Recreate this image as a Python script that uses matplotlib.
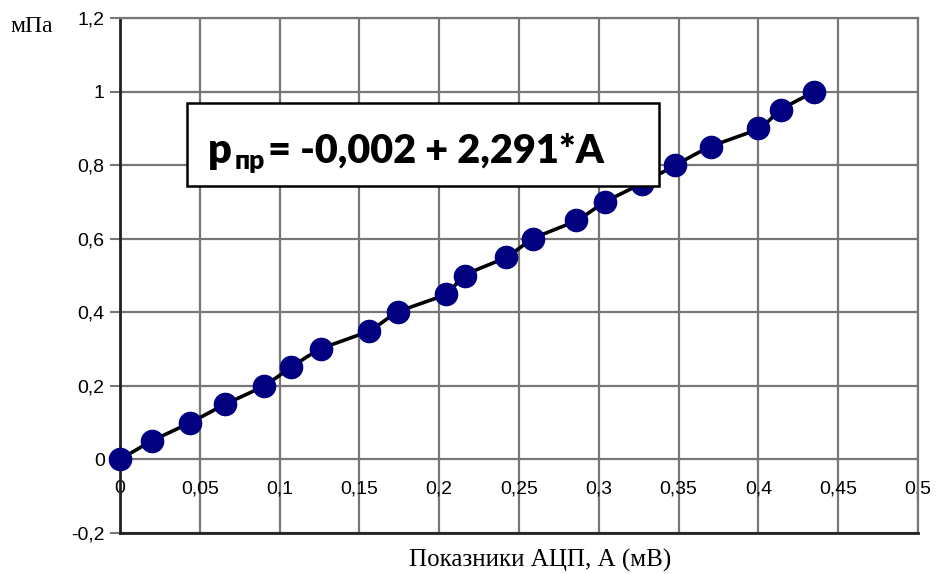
import numpy as np
import matplotlib.pyplot as plt
from matplotlib.patches import Rectangle

# readings
adc_mv = [0.0, 0.020, 0.044, 0.066, 0.090, 0.107, 0.126, 0.156, 0.174, 0.204, 0.216,
          0.242, 0.259, 0.286, 0.304, 0.327, 0.348, 0.370, 0.400, 0.414, 0.435]
p_mpa = [0.0, 0.05, 0.10, 0.15, 0.20, 0.25, 0.30, 0.35, 0.40, 0.45, 0.50,
         0.55, 0.60, 0.65, 0.70, 0.75, 0.80, 0.85, 0.90, 0.95, 1.00]
x_ticks = [0, 0.05, 0.1, 0.15, 0.2, 0.25, 0.3, 0.35, 0.4, 0.45, 0.5]
y_ticks = [-0.2, 0, 0.2, 0.4, 0.6, 0.8, 1.0, 1.2]


def fmt(v):
    s = ('%g' % v).replace('.', ',')
    return s


def smooth(x, y, n=20):
    # catmull-rom curve through the points (like the smoothed Excel line)
    p = np.column_stack([x, y]).astype(float)
    p = np.vstack([p[0] * 2 - p[1], p, p[-1] * 2 - p[-2]])
    out = []
    t = np.linspace(0, 1, n, endpoint=False)[:, None]
    for i in range(1, len(p) - 2):
        p0, p1, p2, p3 = p[i - 1], p[i], p[i + 1], p[i + 2]
        c = 0.5 * (2 * p1 + (-p0 + p2) * t + (2 * p0 - 5 * p1 + 4 * p2 - p3) * t ** 2
                   + (-p0 + 3 * p1 - 3 * p2 + p3) * t ** 3)
        out.append(c)
    out.append(p[-2][None, :])
    c = np.vstack(out)
    return c[:, 0], c[:, 1]


fig = plt.figure(figsize=(9.36, 5.74), dpi=100)
ax = fig.add_axes([120 / 936, 1 - 533 / 574, 798 / 936, 515 / 574])

ax.set_xlim(0, 0.5)
ax.set_ylim(-0.2, 1.2)
ax.set_xticks(x_ticks)
ax.set_yticks(y_ticks)
ax.set_xticklabels([fmt(v) for v in x_ticks], family='Liberation Sans', fontsize=14)
ax.set_yticklabels([fmt(v) for v in y_ticks], family='Liberation Sans', fontsize=14)
ax.tick_params(axis='x', length=0, pad=-38)
ax.tick_params(axis='y', length=7, width=1.5, color='#777777', pad=4)

ax.grid(True, color='#777777', lw=1.6)
ax.set_axisbelow(True)
for s in ['top', 'right']:
    ax.spines[s].set_color('#777777')
    ax.spines[s].set_linewidth(1.6)
for s in ['left', 'bottom']:
    ax.spines[s].set_color('#222222')
    ax.spines[s].set_linewidth(2)

sx, sy = smooth(adc_mv, p_mpa)
ax.plot(sx, sy, color='black', lw=2.6, zorder=3)
ax.plot(adc_mv, p_mpa, 'o', color='#000080', ms=16, mec='#000080', zorder=4,
        clip_on=False)

# equation box
ax.add_patch(Rectangle((187 / 936, 1 - 186 / 574), 472 / 936, 83 / 574,
                       transform=fig.transFigure, facecolor='white', edgecolor='black',
                       lw=1.8, zorder=10, clip_on=False))
eq_font = ['Lato', 'Noto Sans', 'DejaVu Sans']
ax.text(208 / 936, 1 - 163 / 574, 'p', transform=fig.transFigure, fontsize=30,
        fontweight='heavy', family=eq_font, zorder=11, va='baseline')
ax.text(235 / 936, 1 - 169 / 574, 'пр', transform=fig.transFigure, fontsize=19,
        fontweight='heavy', family=eq_font, zorder=11, va='baseline')
ax.text(268 / 936, 1 - 163 / 574, '= -0,002 + 2,291*A', transform=fig.transFigure,
        fontsize=28.5, fontweight='heavy', family=eq_font, zorder=11, va='baseline')

fig.text(10 / 936, 1 - 32 / 574, 'мПа', family='Liberation Serif', fontsize=17)
fig.text(540 / 936, 1 - 567 / 574, 'Показники АЦП, А (мВ)', family='Liberation Serif',
         fontsize=18, ha='center')

fig.savefig('out.png', dpi=100)
